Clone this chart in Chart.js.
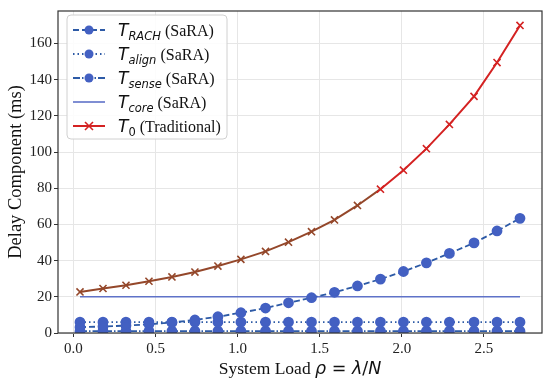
<!DOCTYPE html>
<html>
<head>
<meta charset="utf-8">
<script src="https://cdn.jsdelivr.net/npm/chart.js@4"></script>
<style>
  html, body { margin: 0; padding: 0; background: #fff; }
  #wrap { width: 550px; height: 383px; }
</style>
</head>
<body>
<div id="wrap"><canvas id="delayChart" width="550" height="383"></canvas></div>
<script>
    // system load rho = lambda/N
    const rho = [0.04, 0.18, 0.32, 0.46, 0.60, 0.74, 0.88, 1.02, 1.17, 1.31,
                 1.45, 1.59, 1.73, 1.87, 2.01, 2.15, 2.29, 2.44, 2.58, 2.72];

    const tRach  = [3.2, 3.6, 4.1, 4.8, 5.8, 7.2, 9.0, 11.2, 13.8, 16.7,
                    19.5, 22.5, 26.0, 29.8, 34.0, 38.8, 44.0, 49.8, 56.4, 63.4];
    const tAlign = [6, 6, 6, 6, 6, 6, 6, 6, 6, 6, 6, 6, 6, 6, 6, 6, 6, 6, 6, 6];
    const tSense = [1, 1, 1, 1, 1, 1, 1, 1, 1, 1, 1, 1, 1, 1, 1, 1, 1, 1, 1, 1];
    const tCore  = [20, 20, 20, 20, 20, 20, 20, 20, 20, 20,
                    20, 20, 20, 20, 20, 20, 20, 20, 20, 20];
    const tZero  = [22.7, 24.6, 26.4, 28.6, 31.0, 33.7, 37.0, 40.7, 45.1, 50.2,
                    56.0, 62.5, 70.5, 79.5, 90.0, 101.9, 115.3, 130.8, 149.5, 170.0];

    const yTicks = [0, 20, 40, 60, 80, 100, 120, 140, 160];
    const xTicks = [0.0, 0.5, 1.0, 1.5, 2.0, 2.5];

    const LINE_BLUE = '#2d5aa6';
    const DOT_BLUE = '#4360c2';
    const RED = '#d42222';
    const BROWN = '#94472a';

    const pts = arr => arr.map((v, i) => ({ x: rho[i], y: v }));

    // lower part of the red curve looks brownish in the picture
    const redCol = i => (i < 13 ? BROWN : RED);

    const datasets = [
      { label: 'RACH', data: pts(tRach), borderColor: LINE_BLUE, borderDash: [6, 3], borderWidth: 1.8,
        pointRadius: 4.5, pointBackgroundColor: DOT_BLUE, pointBorderColor: DOT_BLUE, tension: 0 },
      { label: 'align', data: pts(tAlign), borderColor: LINE_BLUE, borderDash: [1.5, 3], borderWidth: 1.8,
        pointRadius: 4.5, pointBackgroundColor: DOT_BLUE, pointBorderColor: DOT_BLUE },
      { label: 'sense', data: pts(tSense), borderColor: LINE_BLUE, borderDash: [7, 2, 1.5, 2], borderWidth: 1.8,
        pointRadius: 4.5, pointBackgroundColor: DOT_BLUE, pointBorderColor: DOT_BLUE },
      { label: 'core', data: pts(tCore), borderColor: '#5f72c8', borderWidth: 1.6, pointRadius: 0 },
      { label: '0', data: pts(tZero), borderColor: RED, borderWidth: 2,
        segment: { borderColor: c => redCol(c.p0DataIndex) },
        pointStyle: 'cross', rotation: 45, pointRadius: 5, pointBorderWidth: 1.6,
        pointBorderColor: tZero.map((v, i) => redCol(i)), pointBackgroundColor: 'transparent' }
    ];

    // legend rows: [main, subscript, subscript italic?, suffix]
    const legendRows = [
      ['T', 'RACH', true, ' (SaRA)'],
      ['T', 'align', true, ' (SaRA)'],
      ['T', 'sense', true, ' (SaRA)'],
      ['T', 'core', true, ' (SaRA)'],
      ['T', '0', false, ' (Traditional)']
    ];

    const drawExtras = {
      id: 'drawExtras',
      afterDraw(chart) {
        const ctx = chart.ctx;
        const a = chart.chartArea;
        ctx.save();

        // frame
        ctx.strokeStyle = '#333';
        ctx.lineWidth = 1.2;
        ctx.strokeRect(a.left, a.top, a.right - a.left, a.bottom - a.top);

        // legend box
        const bx = 67, by = 15, bw = 160, bh = 124;
        ctx.beginPath();
        ctx.roundRect(bx, by, bw, bh, 4);
        ctx.fillStyle = 'rgba(255,255,255,0.85)';
        ctx.fill();
        ctx.strokeStyle = '#d0d0d0';
        ctx.lineWidth = 1;
        ctx.stroke();

        legendRows.forEach((row, i) => {
          const y = 30 + i * 24;
          const ds = datasets[i];
          // line sample
          ctx.beginPath();
          ctx.setLineDash(ds.borderDash || []);
          ctx.strokeStyle = i === 4 ? RED : ds.borderColor;
          ctx.lineWidth = ds.borderWidth;
          ctx.moveTo(73, y);
          ctx.lineTo(105, y);
          ctx.stroke();
          ctx.setLineDash([]);
          if (i < 3) {
            ctx.beginPath();
            ctx.arc(89, y, 4.5, 0, Math.PI * 2);
            ctx.fillStyle = DOT_BLUE;
            ctx.fill();
          } else if (i === 4) {
            ctx.beginPath();
            ctx.strokeStyle = RED;
            ctx.lineWidth = 1.6;
            ctx.moveTo(85, y - 4); ctx.lineTo(93, y + 4);
            ctx.moveTo(85, y + 4); ctx.lineTo(93, y - 4);
            ctx.stroke();
          }
          // label
          ctx.fillStyle = '#111';
          ctx.textBaseline = 'alphabetic';
          ctx.textAlign = 'left';
          let x = 118;
          const base = y + 6;
          ctx.font = 'italic 17px "DejaVu Sans"';
          ctx.fillText(row[0], x, base);
          x += ctx.measureText(row[0]).width;
          ctx.font = (row[2] ? 'italic ' : '') + '11.5px "DejaVu Sans"';
          ctx.fillText(row[1], x, base + 3.5);
          x += ctx.measureText(row[1]).width;
          ctx.font = '16px "Liberation Serif"';
          ctx.fillText(row[3], x, base);
        });

        // x axis title with math part
        const parts = [
          ['System Load ', '17.5px "Liberation Serif"'],
          ['\u03c1', 'italic 17.5px "DejaVu Sans"'],
          [' = ', '17.5px "DejaVu Sans"'],
          ['\u03bb', 'italic 17.5px "DejaVu Sans"'],
          ['/', '17.5px "DejaVu Sans"'],
          ['N', 'italic 17.5px "DejaVu Sans"']
        ];
        let total = 0;
        parts.forEach(p => { ctx.font = p[1]; total += ctx.measureText(p[0]).width; });
        let tx = (a.left + a.right) / 2 - total / 2;
        ctx.fillStyle = '#111';
        parts.forEach(p => {
          ctx.font = p[1];
          ctx.fillText(p[0], tx, 374);
          tx += ctx.measureText(p[0]).width;
        });
        ctx.restore();
      }
    };

    const tickFont = { family: '"Liberation Serif"', size: 15 };

    const ctx = document.getElementById('delayChart').getContext('2d');
    const chart = new Chart(ctx, {
      type: 'line',
      data: { datasets: datasets },
      options: {
        responsive: false,
        animation: false,
        layout: { padding: { top: 8, right: 8, left: 0, bottom: 0 } },
        plugins: { legend: { display: false }, tooltip: { enabled: false } },
        scales: {
          x: {
            type: 'linear',
            min: -0.094, max: 2.854,
            afterFit: s => { s.height = 50; },
            afterBuildTicks: s => { s.ticks = xTicks.map(v => ({ value: v })); },
            ticks: { font: tickFont, color: '#222', padding: 3, callback: v => v.toFixed(1) },
            grid: { color: '#e6e6e6', tickColor: '#333', tickLength: 4 },
            border: { display: false }
          },
          y: {
            min: 0, max: 178,
            afterFit: s => { s.width = 58; },
            afterBuildTicks: s => { s.ticks = yTicks.map(v => ({ value: v })); },
            ticks: { font: tickFont, color: '#222', padding: 2 },
            grid: { color: '#e6e6e6', tickColor: '#333', tickLength: 4 },
            border: { display: false },
            title: { display: true, text: 'Delay Component (ms)', color: '#111',
                     font: { family: '"Liberation Serif"', size: 18.5 }, padding: { top: 5, bottom: 0 } }
          }
        }
      },
      plugins: [drawExtras]
    });
</script>
</body>
</html>
